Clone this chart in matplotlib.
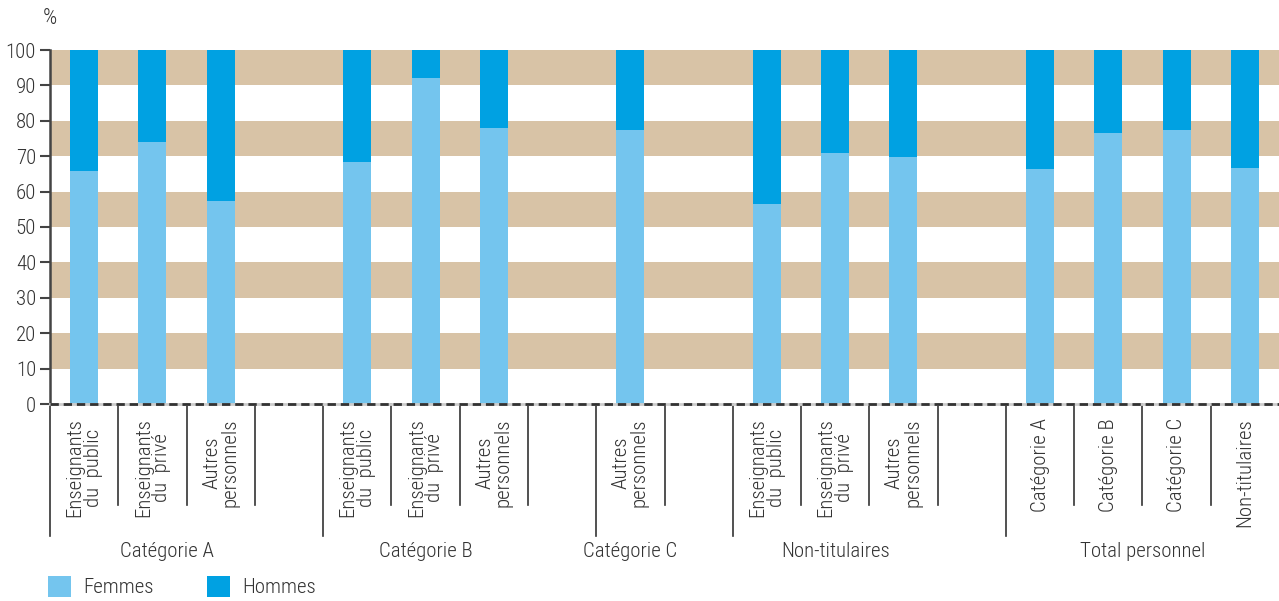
import matplotlib
matplotlib.use("Agg")
import matplotlib.pyplot as plt

# --- data -------------------------------------------------------------
groups = ["Catégorie A", "Catégorie B", "Catégorie C", "Non-titulaires", "Total personnel"]
sub_labels = [
    ["Enseignants\ndu  public", "Enseignants\ndu  privé", "Autres\npersonnels"],
    ["Enseignants\ndu  public", "Enseignants\ndu  privé", "Autres\npersonnels"],
    ["Autres\npersonnels"],
    ["Enseignants\ndu  public", "Enseignants\ndu  privé", "Autres\npersonnels"],
    ["Catégorie A", "Catégorie B", "Catégorie C", "Non-titulaires"],
]
femmes = [
    [65.8, 74.0, 57.3],
    [68.4, 92.1, 78.0],
    [77.4],
    [56.5, 70.9, 69.8],
    [66.4, 76.6, 77.4, 66.7],
]
hommes = [
    [34.2, 26.0, 42.7],
    [31.6, 7.9, 22.0],
    [22.6],
    [43.5, 29.1, 30.2],
    [33.6, 23.4, 22.6, 33.3],
]

col_f = "#74C5EE"
col_h = "#00A1E2"
band = "#D8C3A6"
txt = "#333333"

plt.rcParams["font.family"] = ["Roboto Condensed", "DejaVu Sans"]
plt.rcParams["font.weight"] = 300
plt.rcParams["lines.scale_dashes"] = False

fig = plt.figure(figsize=(12.79, 6.01), dpi=100)
ax = fig.add_axes([50 / 1279, 197 / 601, 1229 / 1279, 354 / 601])

# slot layout: each group is followed by an empty slot, except the last
xs, ff, hh, labs = [], [], [], []
short_sep, long_sep, grp_centres = [], [], []
pos = 0
for gi, g in enumerate(groups):
    long_sep.append(pos)
    start = pos
    for j, lab in enumerate(sub_labels[gi]):
        if j > 0:
            short_sep.append(pos)
        xs.append(pos + 0.5)
        ff.append(femmes[gi][j])
        hh.append(hommes[gi][j])
        labs.append(lab)
        pos += 1
    grp_centres.append((start + pos) / 2)
    if gi < len(groups) - 1:
        short_sep.append(pos)
        pos += 1
n_slots = pos
grp_centres[0] += 0.22  # first group label sits a little right in the original

for lo in range(10, 100, 20):
    ax.axhspan(lo, lo + 10, color=band, lw=0, zorder=0)

ax.bar(xs, ff, width=0.41, color=col_f, label="Femmes", zorder=2)
ax.bar(xs, hh, width=0.41, bottom=ff, color=col_h, label="Hommes", zorder=2)

ax.set_xlim(0, n_slots)
ax.set_ylim(0, 100)
ax.set_yticks(range(0, 101, 10))
ax.tick_params(axis="y", length=7, width=1.5, color="#444444", labelsize=15,
               labelcolor=txt, pad=3)
ax.set_xticks([])
for s in ["top", "right", "bottom"]:
    ax.spines[s].set_visible(False)
ax.spines["left"].set_color("#444444")
ax.spines["left"].set_linewidth(1.8)

# dashed baseline
ax.axhline(0, color="#cccccc", lw=2, zorder=3, clip_on=False)
ax.axhline(0, color="#333333", lw=2, ls=(0, (6, 3.5)), zorder=4, clip_on=False)

trans = ax.get_xaxis_transform()
for x in short_sep:
    ax.plot([x, x], [0, -0.285], transform=trans, color="#333333", lw=1.2, clip_on=False)
for x in long_sep:
    ax.plot([x, x], [0, -0.373], transform=trans, color="#333333", lw=1.2, clip_on=False)

for x, lab in zip(xs, labs):
    ax.text(x, -0.04, lab, transform=trans, rotation=90, ha="center", va="top",
            multialignment="center", fontsize=15, color=txt, linespacing=0.95)

for c, g in zip(grp_centres, groups):
    ax.text(c, -0.418, g, transform=trans, ha="center", va="center",
            fontsize=15, color=txt)

fig.text(50 / 1279, 1 - 19 / 601, "%", ha="center", va="center", fontsize=16, color=txt)

fig.legend(loc="lower left", bbox_to_anchor=(29 / 1279, -0.025), ncol=2, frameon=False,
           fontsize=15, handlelength=1.1, handleheight=1.2, handletextpad=0.6,
           columnspacing=2.55, labelcolor=txt)

fig.savefig("out.png", dpi=100)
